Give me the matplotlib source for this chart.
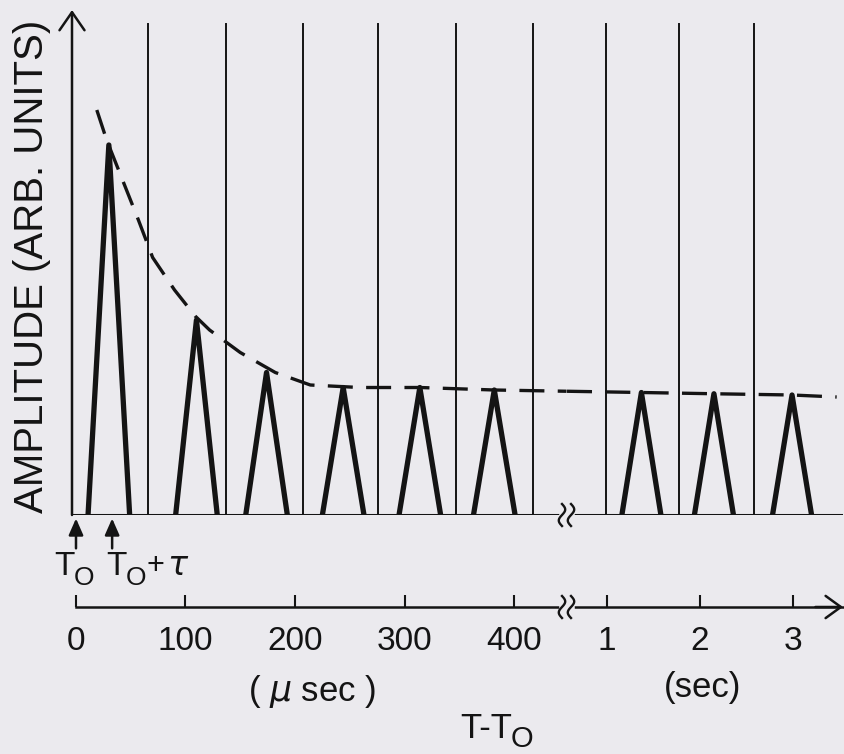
import numpy as np
import matplotlib
matplotlib.use('Agg')
import matplotlib.pyplot as plt
import matplotlib.transforms as mtransforms
from matplotlib.lines import Line2D

# ---------------- data ----------------
pulse_us = [30, 110, 174, 244, 314, 382]                 # pulse times, microseconds
pulse_us_amp = [2.96, 1.56, 1.14, 1.02, 1.02, 1.00]      # pulse amplitudes (arb.)
pulse_s = [1.37, 2.15, 2.99]                             # pulse times, seconds
pulse_s_amp = [0.98, 0.97, 0.96]
gate_us = [66, 137, 207, 276, 347, 417]                  # thin vertical lines (us)
gate_s = [0.99, 1.77, 2.58]                              # thin vertical lines (s)
env_us = [19, 28, 57, 70, 90, 109, 122, 150, 182, 214, 259, 314, 382, 448]
env_us_amp = [3.24, 3.00, 2.36, 2.06, 1.80, 1.59, 1.48, 1.30, 1.14, 1.04, 1.02, 1.02, 1.00, 0.99]
env_s = [0.57, 1.37, 2.15, 2.99, 3.47]
env_s_amp = [0.99, 0.98, 0.97, 0.96, 0.944]
tick_us = [0, 100, 200, 300, 400]
tick_s = [1, 2, 3]
mark_us = [0, 33]   # T0 and T0 + tau markers (us)

# ---------------- style ----------------
BG = '#ebeaee'
INK = '#141414'
FONT = 'Liberation Sans'
plt.rcParams['font.family'] = [FONT, 'DejaVu Sans']
plt.rcParams['mathtext.fontset'] = 'dejavusans'
HW_US = 19      # pulse half width (us)
HW_S = 0.21     # pulse half width (s)

W, H = 845, 754
fig = plt.figure(figsize=(W / 100, H / 100), dpi=100, facecolor=BG)


def fx(px):
    return px / W


def fy(py):
    return 1 - py / H


axL = fig.add_axes([fx(72), fy(515), fx(567) - fx(72), fy(10) - fy(515)])
axR = fig.add_axes([fx(567), fy(515), fx(843) - fx(567), fy(10) - fy(515)])
axL.set_xlim(-3.65, 448.4)
axR.set_xlim(0.570, 3.538)

down_pt = 92 * 72 / 100  # lower time axis offset
for ax in (axL, axR):
    ax.set_facecolor('none')
    ax.set_ylim(0, 4.04)
    for s in ('top', 'right', 'left'):
        ax.spines[s].set_visible(False)
    ax.spines['bottom'].set_position(('outward', down_pt))
    ax.spines['bottom'].set_linewidth(1.8)
    ax.spines['bottom'].set_color(INK)
    ax.set_yticks([])
    ax.tick_params(axis='x', direction='in', length=9, width=1.5, color=INK,
                   pad=14, labelsize=24, labelcolor=INK)
    ax.axhline(0, color=INK, lw=2.2, solid_capstyle='butt', zorder=3)

axL.spines['bottom'].set_bounds(0, 448.4)
axL.set_xticks(tick_us)
axL.set_xticklabels([str(t) for t in tick_us])
axR.set_xticks(tick_s)
axR.set_xticklabels([str(t) for t in tick_s])

# pulses
for c, a in zip(pulse_us, pulse_us_amp):
    axL.plot([c - HW_US, c, c + HW_US], [0, a, 0], color=INK, lw=3.8,
             solid_joinstyle='round', zorder=4)
for c, a in zip(pulse_s, pulse_s_amp):
    axR.plot([c - HW_S, c, c + HW_S], [0, a, 0], color=INK, lw=3.8,
             solid_joinstyle='round', zorder=4)

# gate lines
for g in gate_us:
    axL.axvline(g, ymin=0, ymax=0.972, color=INK, lw=1.4, zorder=2)
for g in gate_s:
    axR.axvline(g, ymin=0, ymax=0.972, color=INK, lw=1.4, zorder=2)

# envelope
dash = (0, (7.5, 4))
axL.plot(env_us, env_us_amp, color=INK, lw=2.4, ls=dash, zorder=5)
axR.plot(env_s, env_s_amp, color=INK, lw=2.4, ls=dash, zorder=5)

# y axis with arrow
axL.annotate('', xy=(0, 1.0), xytext=(0, 0), xycoords='axes fraction',
             arrowprops=dict(arrowstyle='->,head_length=0.65,head_width=0.45',
                             lw=1.8, color=INK, shrinkA=0, shrinkB=0,
                             mutation_scale=20))

# lower axis arrow head
low_tr = axR.transAxes + mtransforms.ScaledTranslation(0, -down_pt / 72, fig.dpi_scale_trans)
axR.annotate('', xy=(1.0, 0), xytext=(0.9, 0), xycoords=low_tr, textcoords=low_tr,
             arrowprops=dict(arrowstyle='->,head_length=0.55,head_width=0.4',
                             lw=1.8, color=INK, shrinkA=0, shrinkB=0,
                             mutation_scale=20), annotation_clip=False)

# T0 marker arrows
for t in mark_us:
    axL.annotate('', xy=(t, 0), xytext=(0, -24), textcoords='offset points',
                 arrowprops=dict(arrowstyle='-|>,head_length=0.5,head_width=0.22',
                                 lw=1.8, color=INK, shrinkA=0, shrinkB=2.5,
                                 mutation_scale=20), annotation_clip=False)

fig.canvas.draw()
renderer = fig.canvas.get_renderer()
ID = mtransforms.IdentityTransform()


def compose(x_px, y_px, pieces, align='left'):
    """Lay out text pieces side by side; y_px is the main baseline (pixels from top)."""
    arts = []
    for s, fs, dy, gap in pieces:
        t = fig.text(0, 0, s, fontsize=fs, va='baseline', ha='left',
                     color=INK, transform=ID)
        arts.append((t, dy, gap))
    widths = [t.get_window_extent(renderer).width for t, _, _ in arts]
    total = sum(widths) + sum(g for _, _, g in arts)
    x = x_px if align == 'left' else x_px - total / 2
    for (t, dy, gap), w in zip(arts, widths):
        x += gap
        t.set_position((x, H - (y_px + dy)))
        x += w


# marker labels
m0x = axL.transData.transform((mark_us[0], 0))[0]
m1x = axL.transData.transform((mark_us[1], 0))[0]
compose(m0x - 2, 575, [('T', 24, 0, 0), ('O', 19, 10, -1)], align='center')
compose(m1x - 6, 575, [('T', 24, 0, 0), ('O', 19, 10, -1), ('+', 22, -1, 0),
                       (r'$\tau$', 24, 0, 3)], align='left')

# axis captions
fig.text(fx(312), fy(692), r'( $\mu$ sec )', ha='center', va='center', fontsize=25, color=INK)
fig.text(fx(703), fy(687), '(sec)', ha='center', va='center', fontsize=25, color=INK)
compose(497, 738, [('T-T', 25, 0, 0), ('O', 21, 9, -1)], align='center')
fig.text(fx(32), fy(266), 'AMPLITUDE (ARB. UNITS)', rotation=90, ha='center', va='center',
         fontsize=29, color=INK)


# break marks
def squiggle(xd, yd):
    t = np.linspace(-1, 1, 60)
    fig.add_artist(Line2D([xd - 5, xd + 5], [yd, yd], transform=ID,
                          color=BG, lw=4, zorder=10))
    for dx in (-5, 4):
        xs = xd + dx + 3.2 * np.sin(np.pi * t)
        ys = yd + 11 * t
        fig.add_artist(Line2D(xs, ys, transform=ID, color=INK, lw=1.7, zorder=11))


bx, by = axR.transAxes.transform((0, 0))
squiggle(bx, by)
lx, ly = low_tr.transform((0, 0))
squiggle(lx, ly)

fig.savefig('out.png', dpi=100, facecolor=BG)
